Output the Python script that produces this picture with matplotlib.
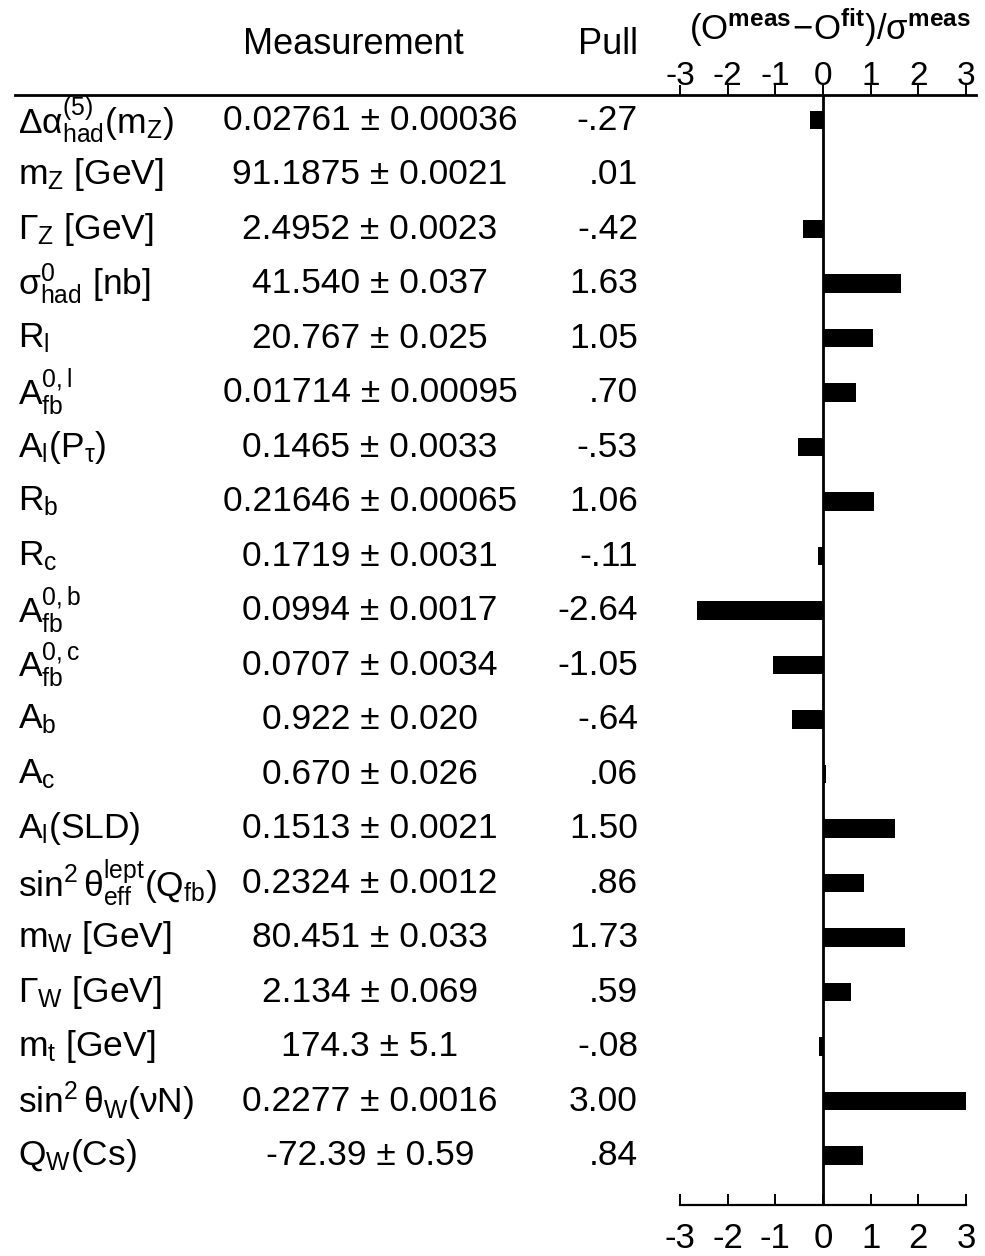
import matplotlib
matplotlib.use("Agg")
import matplotlib.pyplot as plt
from matplotlib.lines import Line2D
import matplotlib.transforms as mtransforms

plt.rcParams['font.family'] = ['Liberation Sans', 'DejaVu Sans']
plt.rcParams['mathtext.default'] = 'regular'
plt.rcParams['mathtext.fontset'] = 'custom'
plt.rcParams['mathtext.rm'] = 'Liberation Sans'
plt.rcParams['mathtext.it'] = 'Liberation Sans'
plt.rcParams['mathtext.bf'] = 'Liberation Sans:bold'

labels = [
    r'$\Delta\alpha^{(5)}_{had}(m_Z)$',
    r'$m_Z$ [GeV]',
    r'$\Gamma_Z$ [GeV]',
    r'$\sigma^0_{had}$ [nb]',
    r'$R_l$',
    r'$A^{0,l}_{fb}$',
    r'$A_l(P_\tau)$',
    r'$R_b$',
    r'$R_c$',
    r'$A^{0,b}_{fb}$',
    r'$A^{0,c}_{fb}$',
    r'$A_b$',
    r'$A_c$',
    r'$A_l$(SLD)',
    r'$\sin^2\theta^{lept}_{eff}(Q_{fb})$',
    r'$m_W$ [GeV]',
    r'$\Gamma_W$ [GeV]',
    r'$m_t$ [GeV]',
    r'$\sin^2\theta_W(\nu N)$',
    r'$Q_W$(Cs)',
]
measurements = [
    '0.02761 ± 0.00036', '91.1875 ± 0.0021', '2.4952 ± 0.0023', '41.540 ± 0.037',
    '20.767 ± 0.025', '0.01714 ± 0.00095', '0.1465 ± 0.0033', '0.21646 ± 0.00065',
    '0.1719 ± 0.0031', '0.0994 ± 0.0017', '0.0707 ± 0.0034', '0.922 ± 0.020',
    '0.670 ± 0.026', '0.1513 ± 0.0021', '0.2324 ± 0.0012', '80.451 ± 0.033',
    '2.134 ± 0.069', '174.3 ± 5.1', '0.2277 ± 0.0016', '-72.39 ± 0.59',
]
pull_text = ['-.27', '.01', '-.42', '1.63', '1.05', '.70', '-.53', '1.06', '-.11', '-2.64',
             '-1.05', '-.64', '.06', '1.50', '.86', '1.73', '.59', '-.08', '3.00', '.84']
pulls = [-0.27, 0.01, -0.42, 1.63, 1.05, 0.70, -0.53, 1.06, -0.11, -2.64,
         -1.05, -0.64, 0.06, 1.50, 0.86, 1.73, 0.59, -0.08, 3.00, 0.84]
ticks = [-3, -2, -1, 0, 1, 2, 3]

W, H = 985, 1256
fig = plt.figure(figsize=(W / 100, H / 100), dpi=100)

x0, x1 = 680, 966
ytop, ybot = 95, 1205
row0, dy = 120, 54.5
ax = fig.add_axes([x0 / W, 1 - ybot / H, (x1 - x0) / W, (ybot - ytop) / H])
ax.set_xlim(-3, 3)
ax.set_ylim((ybot - row0) / dy, (ytop - row0) / dy)
rows = list(range(len(pulls)))
ax.barh(rows, pulls, height=0.34, color='black')
ax.axvline(0, color='black', lw=2)

for s in ['left', 'right', 'top']:
    ax.spines[s].set_visible(False)
ax.spines['bottom'].set_linewidth(1.6)
ax.set_yticks([])
ax.set_xticks(ticks)
ax.set_xticklabels([str(t) for t in ticks], fontsize=25)
ax.tick_params(axis='x', bottom=True, top=False, direction='in', length=8, width=1.4, pad=12)

# top scale
axt = ax.twiny()
axt.set_xlim(ax.get_xlim())
axt.set_xticks(ticks)
axt.set_xticklabels([str(t) for t in ticks], fontsize=24)
axt.tick_params(axis='x', direction='out', length=7, width=1.4, pad=-5)
for s in ['left', 'right', 'top', 'bottom']:
    axt.spines[s].set_visible(False)
axt.set_yticks([])

# top line across the whole table
fig.add_artist(Line2D([15 / W, 976 / W], [1 - ytop / H, 1 - ytop / H], color='black', lw=2))

trans = mtransforms.blended_transform_factory(fig.transFigure, ax.transData)
fs = 25.5
for i in rows:
    ax.text(18 / W, i, labels[i], transform=trans, ha='left', va='center', fontsize=fs, clip_on=False)
    ax.text(370 / W, i, measurements[i], transform=trans, ha='center', va='center', fontsize=fs, clip_on=False)
    ax.text(638 / W, i, pull_text[i], transform=trans, ha='right', va='center', fontsize=fs, clip_on=False)

fig.text(353 / W, 1 - 44 / H, 'Measurement', ha='center', va='center', fontsize=26)
fig.text(638 / W, 1 - 44 / H, 'Pull', ha='right', va='center', fontsize=26)
fig.text(830 / W, 1 - 28 / H, r'$(O^{\mathbf{meas}}\!-\!O^{\mathbf{fit}})/\sigma^{\mathbf{meas}}$',
         ha='center', va='center', fontsize=25)

fig.savefig('out.png', dpi=100)
